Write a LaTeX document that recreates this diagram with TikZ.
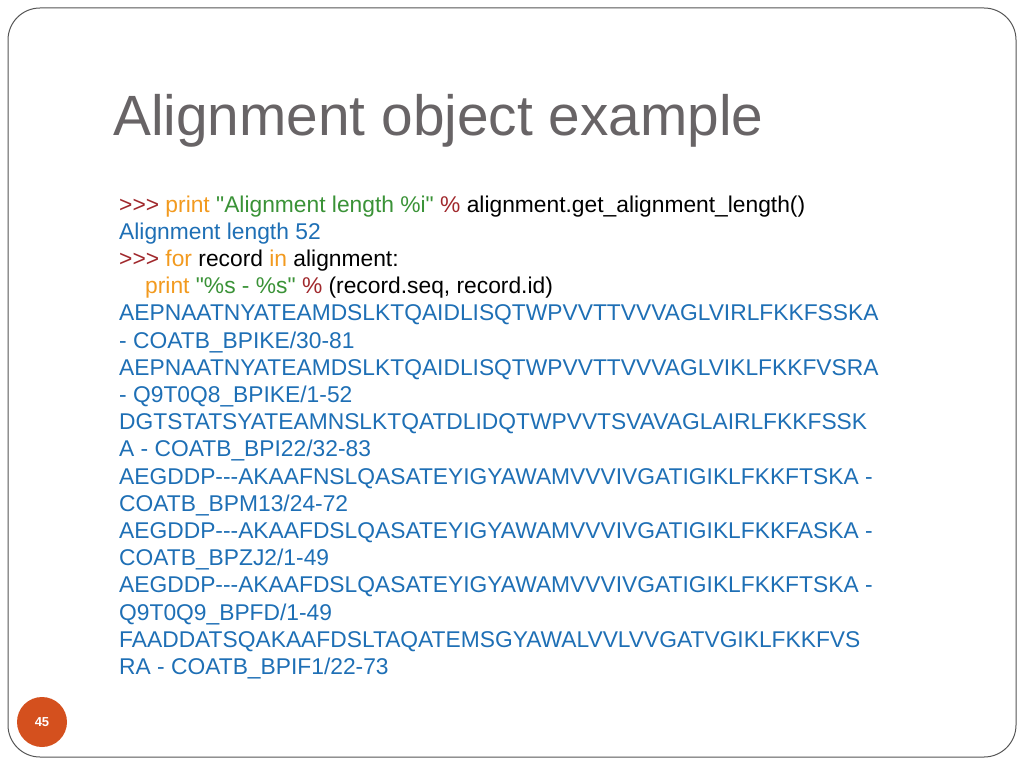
\documentclass[tikz,border=0pt]{standalone}
\usepackage{fontspec}
\setmainfont{Liberation Sans}
\newfontfamily\codefont{Liberation Sans}
\usetikzlibrary{calc}
\definecolor{titlegray}{HTML}{686466}
\definecolor{promptred}{HTML}{A0282C}
\definecolor{kworange}{HTML}{F29A1F}
\definecolor{strgreen}{HTML}{3A9237}
\definecolor{outblue}{HTML}{1E6FB5}
\definecolor{framegray}{HTML}{555555}
\definecolor{pagered}{HTML}{D4501E}
\newcommand{\codesize}{\codefont\fontsize{22.8pt}{26pt}\selectfont}
\newcommand{\prm}{\textcolor{promptred}{>{}>{}>}}
\newcommand{\kw}[1]{\textcolor{kworange}{#1}}

\begin{document}
\begin{tikzpicture}[x=1pt,y=-1pt,
  codeline/.style={anchor=base west,inner sep=0pt,font=\codesize},
  outline/.style={codeline,text=outblue}]
\useasboundingbox (0,0) rectangle (1024,768);
%slide frame
\draw[framegray,line width=1pt,rounded corners=32pt] (8,8) rectangle (1016,757);
%title
\node[anchor=base west,inner sep=0pt,text=titlegray,font=\fontsize{56.8pt}{60pt}\selectfont] (title) at (113,135) {Alignment object example};
%code lines
\node[codeline] (l1) at (119,212) {\prm{} \kw{print} \textcolor{strgreen}{"Alignment length \%i"} \textcolor{promptred}{\%} alignment.get\_alignment\_length()};
\node[outline] (l2) at (119,239.2) {Alignment length 52};
\node[codeline] (l3) at (119,266.4) {\prm{} \kw{for} record \kw{in} alignment:};
\node[codeline] (l4) at (145,293.6) {\kw{print} \textcolor{strgreen}{"\%s - \%s"} \textcolor{promptred}{\%} (record.seq, record.id)};
%output lines
\foreach \t [count=\i from 5] in {AEPNAATNYATEAMDSLKTQAIDLISQTWPVVTTVVVAGLVIRLFKKFSSKA,
  - COATB\_BPIKE/30-81,
  AEPNAATNYATEAMDSLKTQAIDLISQTWPVVTTVVVAGLVIKLFKKFVSRA,
  - Q9T0Q8\_BPIKE/1-52,
  DGTSTATSYATEAMNSLKTQATDLIDQTWPVVTSVAVAGLAIRLFKKFSSK,
  A - COATB\_BPI22/32-83,
  AEGDDP-{}-{}-AKAAFNSLQASATEYIGYAWAMVVVIVGATIGIKLFKKFTSKA -,
  COATB\_BPM13/24-72,
  AEGDDP-{}-{}-AKAAFDSLQASATEYIGYAWAMVVVIVGATIGIKLFKKFASKA -,
  COATB\_BPZJ2/1-49,
  AEGDDP-{}-{}-AKAAFDSLQASATEYIGYAWAMVVVIVGATIGIKLFKKFTSKA -,
  Q9T0Q9\_BPFD/1-49,
  FAADDATSQAKAAFDSLTAQATEMSGYAWALVVLVVGATVGIKLFKKFVS,
  RA - COATB\_BPIF1/22-73}
  \node[outline] (l\i) at (119,{212+27.2*(\i-1)}) {\t};
%page number
\node[circle,fill=pagered,minimum size=50pt,inner sep=0pt,text=white,font=\bfseries\fontsize{13pt}{14pt}\selectfont] (page) at (42,722) {45};
\end{tikzpicture}
\end{document}
